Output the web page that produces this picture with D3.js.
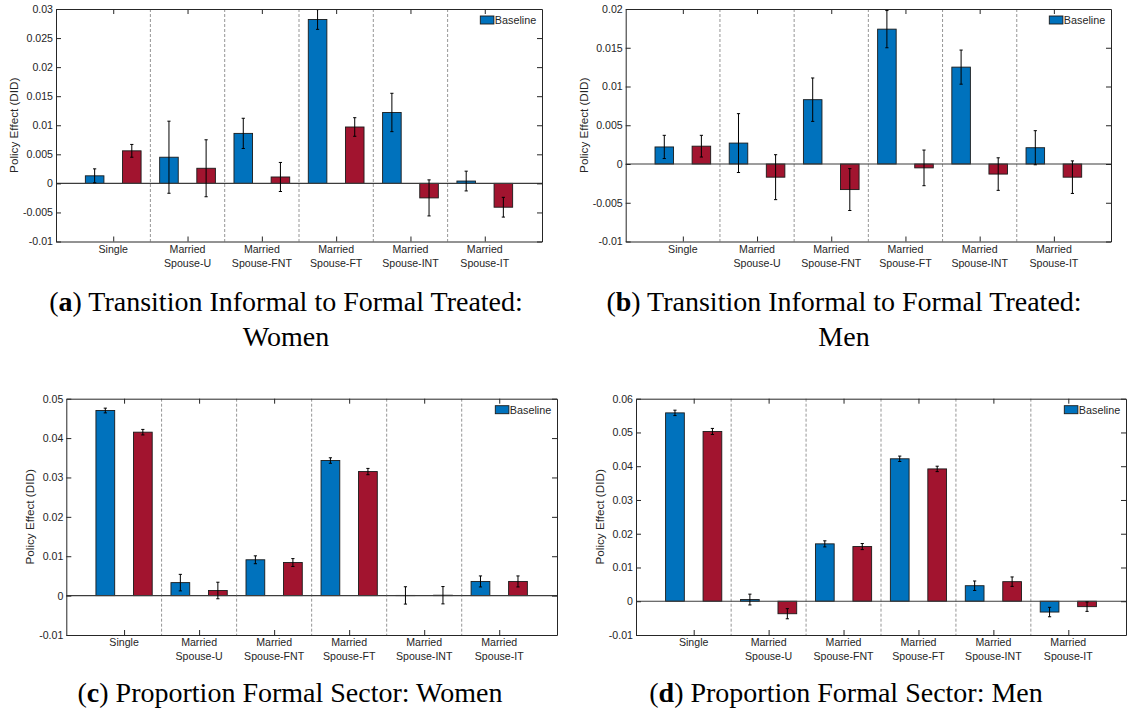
<!DOCTYPE html>
<html>
<head>
<meta charset="utf-8">
<script src="https://cdn.jsdelivr.net/npm/d3@7"></script>
<style>
  html, body { margin: 0; padding: 0; background: #ffffff; }
  svg { display: block; }
</style>
</head>
<body>
<svg id="chart" width="1127" height="713"></svg>
<script>
// ---------------- DATA ----------------
const categories = [
  ["Single"],
  ["Married", "Spouse-U"],
  ["Married", "Spouse-FNT"],
  ["Married", "Spouse-FT"],
  ["Married", "Spouse-INT"],
  ["Married", "Spouse-IT"]
];
const legendLabel = "Baseline";

// (a) Transition Informal to Formal Treated: Women
const aBaseline    = [0.0013, 0.0045, 0.0086, 0.0282, 0.0122, 0.0004];
const aBaselineErr = [0.0012, 0.0062, 0.0026, 0.0017, 0.0033, 0.0017];
const aAlt         = [0.0056, 0.0026, 0.0011, 0.0097, -0.0025, -0.0041];
const aAltErr      = [0.0011, 0.0049, 0.0025, 0.0016, 0.0031, 0.0017];
const aTicks = [-0.01, -0.005, 0, 0.005, 0.01, 0.015, 0.02, 0.025, 0.03];

// (b) Transition Informal to Formal Treated: Men
const bBaseline    = [0.0022, 0.0027, 0.0083, 0.0174, 0.0125, 0.0021];
const bBaselineErr = [0.0015, 0.0038, 0.0028, 0.0024, 0.0022, 0.0022];
const bAlt         = [0.0023, -0.0017, -0.0033, -0.0005, -0.0013, -0.0017];
const bAltErr      = [0.0014, 0.0029, 0.0027, 0.0023, 0.0021, 0.0021];
const bTicks = [-0.01, -0.005, 0, 0.005, 0.01, 0.015, 0.02];

// (c) Proportion Formal Sector: Women
const cBaseline    = [0.0470, 0.0033, 0.0091, 0.0343, 0.00005, 0.0036];
const cBaselineErr = [0.0006, 0.0021, 0.0010, 0.0007, 0.0022, 0.0014];
const cAlt         = [0.0415, 0.0013, 0.0084, 0.0315, 0.0001, 0.0036];
const cAltErr      = [0.0007, 0.0021, 0.0010, 0.0008, 0.0022, 0.0014];
const cTicks = [-0.01, 0, 0.01, 0.02, 0.03, 0.04, 0.05];

// (d) Proportion Formal Sector: Men
const dBaseline    = [0.0558, 0.0005, 0.0170, 0.0422, 0.0046, -0.0032];
const dBaselineErr = [0.0008, 0.0016, 0.0009, 0.0008, 0.0014, 0.0014];
const dAlt         = [0.0503, -0.0037, 0.0162, 0.0392, 0.0058, -0.0016];
const dAltErr      = [0.0009, 0.0015, 0.0009, 0.0008, 0.0014, 0.0014];
const dTicks = [-0.01, 0, 0.01, 0.02, 0.03, 0.04, 0.05, 0.06];

const yLabel = "Policy Effect (DID)";
const captions = [
  { letter: "a", lines: ["Transition Informal to Formal Treated:", "Women"] },
  { letter: "b", lines: ["Transition Informal to Formal Treated:", "Men"] },
  { letter: "c", lines: ["Proportion Formal Sector: Women"] },
  { letter: "d", lines: ["Proportion Formal Sector: Men"] }
];

// ---------------- STYLE / LAYOUT ----------------
const BLUE = "#0072BD", RED = "#A2142F", INK = "#262626";
const SANS = "'Liberation Sans', Arial, Helvetica, sans-serif";
const SERIF = "'Liberation Serif', 'Times New Roman', Times, serif";
const xlim = [0.23, 6.77];

const panels = [
  { left: 56,    right: 542,  top: 9,     bottom: 241.5, ylabX: 14.3,  ticks: aTicks,
    base: aBaseline, baseErr: aBaselineErr, alt: aAlt, altErr: aAltErr,
    cap: captions[0], capX: 286, capY: 311 },
  { left: 625.7, right: 1111, top: 9,     bottom: 241.5, ylabX: 584.3, ticks: bTicks,
    base: bBaseline, baseErr: bBaselineErr, alt: bAlt, altErr: bAltErr,
    cap: captions[1], capX: 844, capY: 311 },
  { left: 66.3,  right: 557,  top: 398.7, bottom: 635,   ylabX: 30,    ticks: cTicks,
    base: cBaseline, baseErr: cBaselineErr, alt: cAlt, altErr: cAltErr,
    cap: captions[2], capX: 290, capY: 702 },
  { left: 636,   right: 1126, top: 398.7, bottom: 635,   ylabX: 600,   ticks: dTicks,
    base: dBaseline, baseErr: dBaselineErr, alt: dAlt, altErr: dAltErr,
    cap: captions[3], capX: 846, capY: 702 }
];

const svg = d3.select("#chart");
svg.append("rect").attr("width", 1127).attr("height", 713).attr("fill", "#fff");

const fmt = d => (d === 0 ? "0" : String(d));

function styleAxis(sel) {
  sel.attr("font-family", SANS).attr("font-size", 10.6);
  sel.selectAll("path.domain").attr("stroke", INK).attr("stroke-width", 1);
  sel.selectAll(".tick line").attr("stroke", INK).attr("stroke-width", 1);
  sel.selectAll(".tick text").attr("fill", INK);
}

function drawPanel(p) {
  const g = svg.append("g");
  const x = d3.scaleLinear().domain(xlim).range([p.left, p.right]);
  const y = d3.scaleLinear()
    .domain([p.ticks[0], p.ticks[p.ticks.length - 1]])
    .range([p.bottom, p.top]);
  const idx = d3.range(1, categories.length + 1);

  // dashed group dividers
  g.selectAll("line.divider")
    .data(d3.range(1.5, categories.length, 1))
    .join("line")
    .attr("class", "divider")
    .attr("x1", d => x(d)).attr("x2", d => x(d))
    .attr("y1", p.top).attr("y2", p.bottom)
    .attr("stroke", "#8a8a8a").attr("stroke-width", 0.9)
    .attr("stroke-dasharray", "3,2");

  const barW = x(0.25) - x(0);
  const series = [
    { vals: p.base, errs: p.baseErr, off: -0.25, color: BLUE },
    { vals: p.alt,  errs: p.altErr,  off:  0.25, color: RED }
  ];

  series.forEach(s => {
    g.selectAll(null)
      .data(s.vals)
      .join("rect")
      .attr("x", (d, i) => x(idx[i] + s.off) - barW / 2)
      .attr("width", barW)
      .attr("y", d => y(Math.max(0, d)))
      .attr("height", d => Math.abs(y(d) - y(0)))
      .attr("fill", s.color)
      .attr("stroke", "#1a1a1a")
      .attr("stroke-width", 0.9);
  });

  // baseline at zero
  g.append("line")
    .attr("x1", p.left).attr("x2", p.right)
    .attr("y1", y(0)).attr("y2", y(0))
    .attr("stroke", "#3c3c3c").attr("stroke-width", 1.1);

  // error bars
  series.forEach(s => {
    const eb = g.selectAll(null)
      .data(s.vals.map((v, i) => ({ v, e: s.errs[i], xc: x(idx[i] + s.off) })))
      .join("g");
    eb.append("line")
      .attr("x1", d => d.xc).attr("x2", d => d.xc)
      .attr("y1", d => y(d.v + d.e)).attr("y2", d => y(d.v - d.e))
      .attr("stroke", "#000").attr("stroke-width", 1);
    eb.append("line")
      .attr("x1", d => d.xc - 1.6).attr("x2", d => d.xc + 1.6)
      .attr("y1", d => y(d.v + d.e)).attr("y2", d => y(d.v + d.e))
      .attr("stroke", "#000").attr("stroke-width", 1);
    eb.append("line")
      .attr("x1", d => d.xc - 1.6).attr("x2", d => d.xc + 1.6)
      .attr("y1", d => y(d.v - d.e)).attr("y2", d => y(d.v - d.e))
      .attr("stroke", "#000").attr("stroke-width", 1);
  });

  // axes (box with inward ticks)
  g.append("g").attr("transform", `translate(${p.left},0)`)
    .call(d3.axisLeft(y).tickValues(p.ticks).tickFormat(fmt)
      .tickSize(-5).tickSizeOuter(0).tickPadding(3))
    .call(styleAxis);
  g.append("g").attr("transform", `translate(${p.right},0)`)
    .call(d3.axisRight(y).tickValues(p.ticks).tickFormat(() => "")
      .tickSize(-5).tickSizeOuter(0))
    .call(styleAxis);
  g.append("g").attr("transform", `translate(0,${p.top})`)
    .call(d3.axisTop(x).tickValues(idx).tickFormat(() => "")
      .tickSize(-5).tickSizeOuter(0))
    .call(styleAxis);
  g.append("g").attr("transform", `translate(0,${p.bottom})`)
    .call(d3.axisBottom(x).tickValues(idx).tickFormat(() => "")
      .tickSize(-5).tickSizeOuter(0))
    .call(styleAxis);

  // multi-line category labels
  const lab = g.append("g").attr("font-family", SANS).attr("font-size", 10.6)
    .attr("fill", INK).attr("text-anchor", "middle");
  categories.forEach((lines, i) => {
    const t = lab.append("text").attr("x", x(idx[i])).attr("y", p.bottom + 11.3);
    lines.forEach((ln, k) => {
      t.append("tspan").attr("x", x(idx[i])).attr("dy", k === 0 ? 0 : 14).text(ln);
    });
  });

  // y label
  g.append("text")
    .attr("transform", `translate(${p.ylabX},${(p.top + p.bottom) / 2}) rotate(-90)`)
    .attr("text-anchor", "middle").attr("dy", "0.35em")
    .attr("font-family", SANS).attr("font-size", 11.7).attr("fill", INK)
    .text(yLabel);

  // legend (Baseline only)
  g.append("rect")
    .attr("x", p.right - 61.7).attr("y", p.top + 7)
    .attr("width", 13.6).attr("height", 8)
    .attr("fill", BLUE).attr("stroke", "#1a1a1a").attr("stroke-width", 0.9);
  g.append("text")
    .attr("x", p.right - 47.2).attr("y", p.top + 14.8)
    .attr("font-family", SANS).attr("font-size", 10.8).attr("fill", INK)
    .text(legendLabel);

  // caption
  const cap = g.append("text").attr("text-anchor", "middle")
    .attr("font-family", SERIF).attr("font-size", 28).attr("fill", "#000");
  p.cap.lines.forEach((ln, k) => {
    const t = cap.append("tspan").attr("x", p.capX).attr("y", p.capY + k * 35);
    if (k === 0) {
      t.append("tspan").text("(");
      t.append("tspan").attr("font-weight", "bold").text(p.cap.letter);
      t.append("tspan").text(") " + ln);
    } else {
      t.text(ln);
    }
  });
}

panels.forEach(drawPanel);
</script>
</body>
</html>
